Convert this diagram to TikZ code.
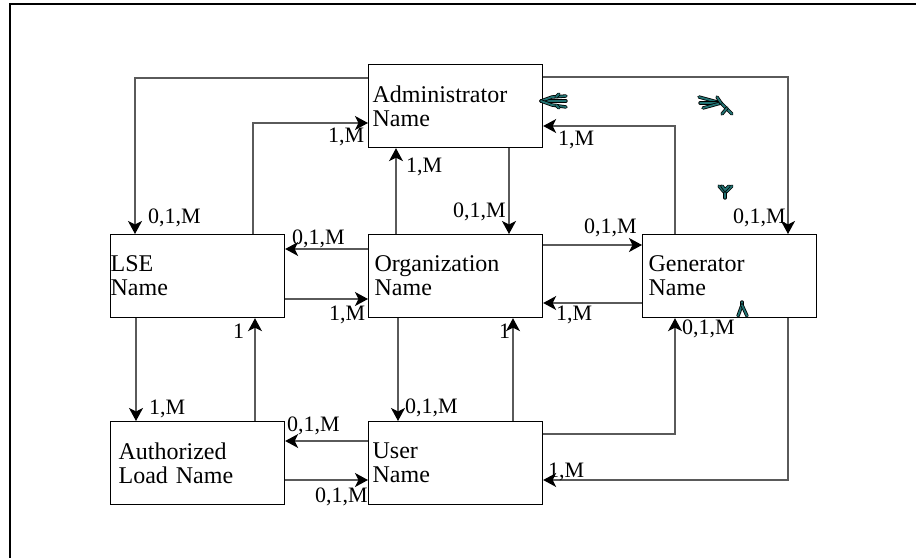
\documentclass[tikz,border=0pt]{standalone}
\usepackage{fontspec}
\setmainfont{Liberation Serif}
\usetikzlibrary{arrows.meta}
\definecolor{linegray}{RGB}{90,90,90}
\definecolor{glyphteal}{RGB}{35,115,115}
\begin{document}
\begin{tikzpicture}[x=1pt,y=-1pt,
  entity/.style={draw=black, line width=1.2pt, anchor=north west,
    minimum width=174pt, minimum height=83pt, text width=162pt,
    inner xsep=6pt, inner ysep=0pt, align=left,
    font=\fontsize{24}{24}\selectfont},
  conn/.style={draw=linegray, line width=1.2pt,
    -{Stealth[length=13pt,width=14pt,inset=3.5pt,color=black]}},
  card/.style={anchor=base west, inner sep=0pt,
    font=\fontsize{22}{22}\selectfont},
  glyph/.style={draw=black, line width=3.4pt, line cap=round, line join=round,
    postaction={draw=glyphteal, line width=1.8pt}},
  frame/.style={draw=black, line width=2pt}
]
\useasboundingbox (0,0) rectangle (916,558);

% page frame (top and left edges)
\draw[frame] (916,3.7) -- (10,3.7) -- (10,558);

% entities
\node[entity, inner xsep=4pt, text width=166pt] (adm) at (368,64) {Administrator\\Name};
\node[entity, inner xsep=0pt, text width=174pt] (lse) at (110,234) {LSE\\Name};
\node[entity] (org) at (368,234) {Organization\\Name};
\node[entity] (gen) at (642,234) {Generator\\Name};
\node[entity, inner xsep=8pt, text width=158pt] (aut) at (110,421) {Authorized\\Load Name};
\node[entity, inner xsep=4pt, text width=166pt] (usr) at (368,421) {User\\Name};

% routing points of the relationship lines
\coordinate (k1) at (135,78);
\coordinate (k2) at (253,123);
\coordinate (k3) at (396,0);
\coordinate (k4) at (509,0);
\coordinate (k5) at (788,77);
\coordinate (k6) at (675,126);
\coordinate (k7) at (0,245);
\coordinate (k8) at (0,303);
\coordinate (k9) at (0,249);
\coordinate (k10) at (0,299);
\coordinate (k11) at (136,0);
\coordinate (k12) at (255,0);
\coordinate (k13) at (398,0);
\coordinate (k14) at (513,0);
\coordinate (k15) at (0,441);
\coordinate (k16) at (0,480);
\coordinate (k17) at (675,434);
\coordinate (k18) at (788,480);

% relationships
\draw[conn] (adm.west |- k1) -| (k1 |- lse.north);
\draw[conn] (k2 |- lse.north) |- (adm.west |- k2);
\draw[conn] (k3 |- org.north) -- (k3 |- adm.south);
\draw[conn] (k4 |- adm.south) -- (k4 |- org.north);
\draw[conn] (adm.east |- k5) -| (k5 |- gen.north);
\draw[conn] (k6 |- gen.north) |- (adm.east |- k6);
\draw[conn] (org.east |- k7) -- (gen.west |- k7);
\draw[conn] (gen.west |- k8) -- (org.east |- k8);
\draw[conn] (org.west |- k9) -- (lse.east |- k9);
\draw[conn] (lse.east |- k10) -- (org.west |- k10);
\draw[conn] (k11 |- lse.south) -- (k11 |- aut.north);
\draw[conn] (k12 |- aut.north) -- (k12 |- lse.south);
\draw[conn] (k13 |- org.south) -- (k13 |- usr.north);
\draw[conn] (k14 |- usr.north) -- (k14 |- org.south);
\draw[conn] (usr.west |- k15) -- (aut.east |- k15);
\draw[conn] (aut.east |- k16) -- (usr.west |- k16);
\draw[conn] (usr.east |- k17) -| (k17 |- gen.south);
\draw[conn] (k18 |- gen.south) |- (usr.east |- k18);

% cardinalities
\node[card] (c1) at (148,223) {0,1,M};
\node[card] (c2) at (328,142) {1,M};
\node[card] (c3) at (406,172) {1,M};
\node[card] (c4) at (453,217) {0,1,M};
\node[card] (c5) at (733,223) {0,1,M};
\node[card] (c6) at (558,145) {1,M};
\node[card] (c7) at (584,233) {0,1,M};
\node[card] (c8) at (556,320) {1,M};
\node[card] (c9) at (292,244) {0,1,M};
\node[card] (c10) at (329,320) {1,M};
\node[card] (c11) at (149,414) {1,M};
\node[card] (c12) at (233,338) {1};
\node[card] (c13) at (405,413) {0,1,M};
\node[card] (c14) at (499,338) {1};
\node[card] (c15) at (287,431) {0,1,M};
\node[card] (c16) at (315,502) {0,1,M};
\node[card] (c17) at (682,334) {0,1,M};
\node[card] (c18) at (548,477) {1,M};

% stray crow's-foot marks
\draw[glyph] (566,101) -- (541,101);
\draw[glyph] (541,101) -- (552,97) -- (566,96);
\draw[glyph] (541,101) -- (552,105) -- (566,107);
\draw[glyph] (556,97) -- (559,94);
\draw[glyph] (556,105) -- (559,108);

\draw[glyph] (699,97) -- (721,103);
\draw[glyph] (700,103) -- (721,103);
\draw[glyph] (703,108) -- (721,103);
\draw[glyph] (721,103) -- (732,114);
\draw[glyph] (727,108) -- (722,114);
\draw[glyph] (717,97) -- (721,103);

\draw[glyph] (719,186) -- (725,193) -- (732,186);
\draw[glyph] (722,186) -- (725,190) -- (729,186);
\draw[glyph] (725,193) -- (725,198);

\draw[glyph] (742,302) -- (742,305);
\draw[glyph] (742,305) -- (738,316);
\draw[glyph] (742,305) -- (747,316);
\end{tikzpicture}
\end{document}
